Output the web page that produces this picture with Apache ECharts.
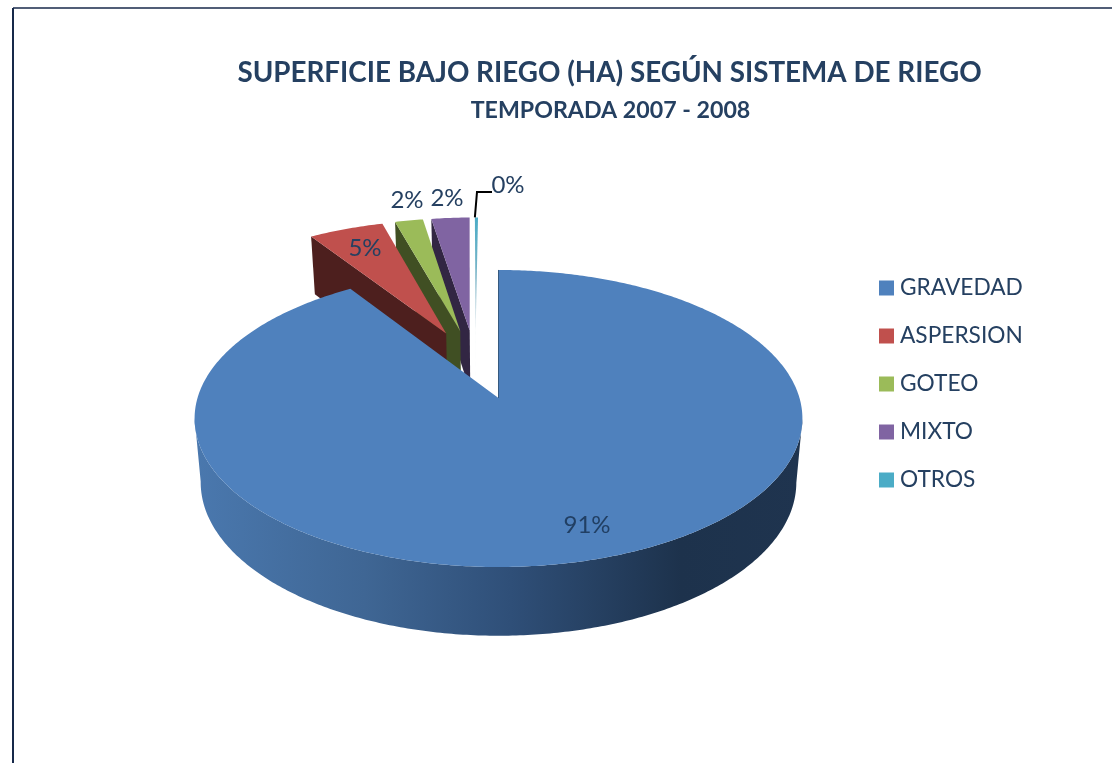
<!DOCTYPE html>
<html><head><meta charset="utf-8">
<style>html,body{margin:0;padding:0;background:#fff}#c{width:1112px;height:763px}</style>
<script src="https://cdn.jsdelivr.net/npm/echarts@6/dist/echarts.min.js"></script>
</head><body><div id="c"></div>
<script>
const categories = ['GRAVEDAD','ASPERSION','GOTEO','MIXTO','OTROS'];
const shares = [90.75, 4.8, 1.8, 2.45, 0.2];
const titleText = 'SUPERFICIE BAJO RIEGO (HA) SEGÚN SISTEMA DE RIEGO';
const subtitleText = 'TEMPORADA 2007 - 2008';
const colors = ['#4f81bd','#c0504d','#9bbb59','#8064a2','#4bacc6'];
const wallColors = ['#1f344f','#4d1f1e','#404f23','#322643','#d5e2e8'];
const labelAnchors = [[587,525],[365,248],[407,200],[447,198],[508,185]];

// Projection of the tilted disc (perspective) onto the page
const EXPLODE = 0.253, K = 0.138, AX = 301, BY = 145.7, APEX = [498.5, 398], SMALL_SHIFT = -2;
const total = shares.reduce((a,b)=>a+b,0);
const bluemid = shares[0]/total*Math.PI;
const ORIGIN = [EXPLODE*Math.sin(bluemid), -EXPLODE*Math.cos(bluemid)];
function proj(u,v){
  const a=u-ORIGIN[0], b=v-ORIGIN[1], w=1-K*b;
  return [APEX[0]+AX*a/w, APEX[1]+BY*b/w];
}
function drop(p){ // same point on the underside of the pie
  return [499+0.98*(p[0]-499), p[1]+50+0.033*p[1]];
}
let acc=0;
const ranges = shares.map(s=>{const a=acc/total*2*Math.PI; acc+=s; return [a, acc/total*2*Math.PI];});

function renderSlice(i){
  return function(params, api){
    const val = api.value(0);
    const [a0,a1] = ranges[i];
    const mid=(a0+a1)/2, ox=EXPLODE*Math.sin(mid), oy=-EXPLODE*Math.cos(mid);
    const dx = i===0 ? 0 : SMALL_SHIFT;
    const moved = p=>[p[0]+dx,p[1]];
    const pt=t=>moved(proj(ox+Math.sin(t), oy-Math.cos(t)));
    const apex=moved(proj(ox,oy));
    const n=Math.max(4,Math.round((a1-a0)*90));
    const arc=[]; for(let k=0;k<=n;k++) arc.push(pt(a0+(a1-a0)*k/n));
    const children=[];
    if(i===0){
      let iR=0,iL=0;
      arc.forEach((p,k)=>{ if(p[0]>arc[iR][0]) iR=k; if(p[0]<arc[iL][0]) iL=k; });
      const front=arc.slice(iR,iL+1);
      const wall=front.concat(front.map(drop).reverse());
      children.push({type:'polygon',shape:{points:wall},style:{
        fill:new echarts.graphic.LinearGradient(0,0,1,0,[
          {offset:0,color:'#4a78ae'},{offset:0.28,color:'#3f6694'},{offset:0.52,color:'#2f4f78'},
          {offset:0.8,color:'#1d324c'},{offset:1,color:'#1f344f'}])}});
    } else {
      const s=arc[0], wall=[apex,s,drop(s),drop(apex)];
      children.push({type:'polygon',shape:{points:wall},style:{fill:wallColors[i]}});
    }
    const face=[apex].concat(arc);
    let fill=colors[i];
    if(i===4) fill=new echarts.graphic.LinearGradient(0,0,0,1,[
      {offset:0,color:'#4bacc6'},{offset:0.55,color:'#7fb6c8'},{offset:1,color:'#d5dfe6'}]);
    children.push({type:'polygon',shape:{points:face},style:{fill:fill}});
    if(i===0) children.push({type:'polyline',shape:{points:[apex,arc[0]]},style:{stroke:'#36597f',lineWidth:1,fill:null}});
    if(i===4){
      const top=arc[0];
      children.push({type:'polyline',shape:{points:[[top[0],top[1]],[477,192],[492,192]]},
        style:{stroke:'#000',lineWidth:2,fill:null}});
    }
    children.push({type:'text',style:{
      text:Math.round(val/total*100)+'%',x:labelAnchors[i][0],y:labelAnchors[i][1],
      align:'center',verticalAlign:'middle',fill:i===0?'#213f63':'#254061',
      font:'24px Lato'}});
    return {type:'group',children:children};
  };
}

const chart = echarts.init(document.getElementById('c'),null,{renderer:'canvas'});
chart.setOption({
  animation:false,
  backgroundColor:'#fff',
  title:[
    {text:titleText,left:604.5,top:54,textAlign:'center',textStyle:{fontFamily:'Lato',fontWeight:'bold',fontSize:27.8,color:'#254061'}},
    {text:subtitleText,left:605.5,top:94,textAlign:'center',textStyle:{fontFamily:'Lato',fontWeight:'bold',fontSize:23.2,color:'#254061'}}
  ],
  legend:{
    orient:'vertical',left:874,top:271,itemWidth:15,itemHeight:15,itemGap:24,
    icon:'rect',data:categories,selectedMode:false,
    textStyle:{fontFamily:'Lato',fontSize:22.7,color:'#254061',lineHeight:24,padding:[0,0,0,1]},
    itemStyle:{borderWidth:0}
  },
  graphic:[
    {type:'line',shape:{x1:13,y1:8,x2:1112,y2:8},style:{stroke:'#17294a',lineWidth:1.6},silent:true},
    {type:'line',shape:{x1:13,y1:8,x2:13,y2:763},style:{stroke:'#17294a',lineWidth:2},silent:true}
  ],
  series:categories.map((name,i)=>({
    type:'custom',name:name,coordinateSystem:'none',silent:true,z:10-i,
    itemStyle:{color:colors[i]},
    data:[[shares[i]]],
    renderItem:renderSlice(i)
  }))
});
</script></body></html>
